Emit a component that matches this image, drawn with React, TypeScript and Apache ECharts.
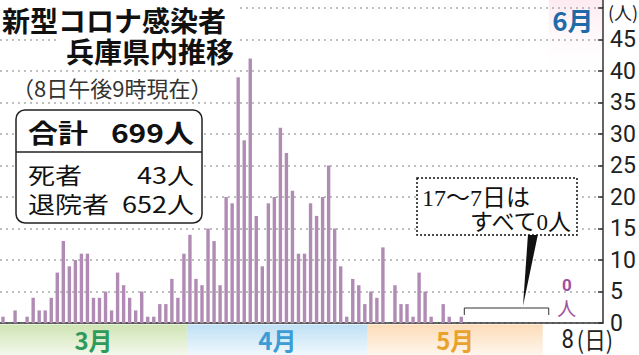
import React, { useEffect, useRef } from 'react';
import * as echarts from 'echarts';

// Daily new cases, Hyogo
const marchValues = [1, 0, 2, 0, 1, 4, 2, 2, 4, 8, 13, 9, 10, 11, 11, 4, 4, 5, 2, 8, 6, 4, 2, 5, 1, 1, 3, 3, 7, 4, 11];
const aprilValues = [14, 7, 6, 15, 13, 6, 20, 19, 39, 29, 42, 17, 9, 19, 20, 31, 27, 21, 11, 11, 19, 17, 20, 25, 15, 9, 1, 7, 6, 3];
const mayValues = [5, 4, 12, 0, 6, 3, 3, 1, 8, 5, 1, 0, 3, 1, 0, 1]; // May 1 - 16
const june8Value = 0;
const GAP_SLOTS = 17; // May 17 - June 7 (all 0), drawn compressed
const TRAIL_SLOTS = 5;
const MAY_BAND_EXTRA = 13;
const yMax = 50;
const yInterval = 5;

const categories: string[] = [];
const values: (number | null)[] = [];
marchValues.forEach((v, i) => { categories.push(`3/${i + 1}`); values.push(v); });
aprilValues.forEach((v, i) => { categories.push(`4/${i + 1}`); values.push(v); });
mayValues.forEach((v, i) => { categories.push(`5/${i + 1}`); values.push(v); });
for (let k = 0; k < GAP_SLOTS; k++) { categories.push(`gap${k}`); values.push(null); }
categories.push('6/8'); values.push(june8Value);
for (let k = 0; k < TRAIL_SLOTS; k++) { categories.push(`pad${k}`); values.push(null); }

const CJK = '"Noto Sans CJK JP", "Noto Sans", sans-serif';
const SERIF = '"Liberation Serif", "DejaVu Serif", "Noto Sans CJK JP", serif';

const option: any = {
  animation: false,
  grid: { left: 0, right: 36, top: 8, bottom: 32, containLabel: false },
  xAxis: {
    type: 'category',
    data: categories,
    boundaryGap: true,
    axisLine: { lineStyle: { color: '#333', width: 1.5 } },
    axisTick: { show: false },
    axisLabel: { show: false },
    splitLine: { show: false },
  },
  yAxis: {
    type: 'value',
    position: 'right',
    min: 0,
    max: yMax,
    interval: yInterval,
    axisLine: { show: true, lineStyle: { color: '#333', width: 1.5 } },
    axisTick: { show: true, inside: true, length: 5, lineStyle: { color: '#333', width: 1.5 } },
    axisLabel: {
      formatter: (v: number) => (v === yMax ? '' : String(v)),
      fontSize: 23,
      lineHeight: 23,
      color: '#222',
      margin: 7,
      fontFamily: 'Roboto, "Noto Sans CJK JP", sans-serif',
    },
    splitLine: { show: true, lineStyle: { type: [2, 4], color: '#aaa', width: 1.5 } },
  },
  series: [
    {
      type: 'bar',
      data: values,
      barWidth: 3.4,
      itemStyle: { color: '#b08cb4' },
      silent: true,
    },
  ],
};

export default function App() {
  const ref = useRef<HTMLDivElement>(null);
  useEffect(() => {
    const el = ref.current!;
    const chart = echarts.init(el, null, { renderer: 'svg' });
    chart.setOption(option);
    const px = (idx: number) => chart.convertToPixel({ xAxisIndex: 0 }, categories[idx]) as number;
    const step = px(1) - px(0);
    const edge = (idx: number) => px(idx) - step / 2;
    const iApr = marchValues.length;
    const iMay = iApr + aprilValues.length;
    const iGap = iMay + mayValues.length;
    const iJune8 = iGap + GAP_SLOTS;
    const gridRight = 639 - 36;
    const x0 = edge(0);
    const xApr = edge(iApr);
    const xMay = edge(iMay);
    const xMayEnd = edge(iGap + MAY_BAND_EXTRA);
    const xJune = edge(iGap + MAY_BAND_EXTRA + 1);
    const xJ8 = px(iJune8);
    const yTop = chart.convertToPixel({ yAxisIndex: 0 }, yMax) as number;
    const bandTop = 324.5;
    const bandH = 355 - bandTop;
    const grad = (a: string, b: string) => ({
      type: 'linear', x: 0, y: 0, x2: 0, y2: 1,
      colorStops: [{ offset: 0, color: a }, { offset: 1, color: b }],
    });
    const txt = (x: number, y: number, text: string, s: any, extra: any = {}) => ({
      type: 'text', x, y, z: 61, ...extra,
      style: {
        text, fill: '#111', fontFamily: CJK, align: 'left', verticalAlign: 'middle',
        lineHeight: s.fontSize, ...s,
      },
    });
    const bandLabel = (x: number, text: string, color: string) =>
      txt(x, 339, text, { fill: color, fontSize: 24, fontWeight: 'bold', align: 'center' }, { z: 50 });
    const elements: any[] = [
      // June band (top)
      { type: 'rect', z: -1, shape: { x: xJune, y: 0, width: gridRight - xJune, height: 80 },
        style: { fill: grad('#fdeaf0', 'rgba(255,255,255,0)') } },
      txt((xJune + gridRight) / 2 - 3, 19, '6月', { fill: '#1f6aa8', fontSize: 26, fontWeight: 'bold', align: 'center' }, { z: 50 }),
      // axis top extension and unit label
      { type: 'line', z: 50, shape: { x1: gridRight, y1: 0, x2: gridRight, y2: yTop }, style: { stroke: '#333', lineWidth: 1.5 } },
      txt(gridRight + 5, 12, '(人)', { fill: '#222', fontSize: 18 }, { z: 50 }),
      // month bands
      { type: 'rect', z: 10, shape: { x: x0, y: bandTop, width: xApr - x0, height: bandH }, style: { fill: grad('#cfe4b3', '#f3f8ec') } },
      { type: 'rect', z: 10, shape: { x: xApr, y: bandTop, width: xMay - xApr, height: bandH }, style: { fill: grad('#bfe0f5', '#f0f8fd') } },
      { type: 'rect', z: 10, shape: { x: xMay, y: bandTop, width: xMayEnd - xMay, height: bandH }, style: { fill: grad('#fcdcb8', '#fff6ec') } },
      bandLabel((x0 + xApr) / 2, '3月', '#2e9a5b'),
      bandLabel((xApr + xMay) / 2, '4月', '#3d9bd5'),
      bandLabel((xMay + xMayEnd) / 2, '5月', '#e9a22c'),
      // x axis label for June 8
      txt(xJ8 - 2, 339, '8', { fill: '#222', fontSize: 26, fontFamily: 'Roboto, sans-serif', align: 'center' }, { z: 50, scaleX: 0.85 }),
      txt(xJ8 + 7, 339, '(日)', { fill: '#222', fontSize: 24 }, { z: 50, scaleX: 0.9 }),
      // 0人 label for June 8
      txt(xJ8 - 3, 285, '0', { fill: '#a0509e', fontSize: 17, fontWeight: 'bold', fontFamily: 'Roboto, sans-serif', align: 'center' }, { z: 50 }),
      txt(xJ8 - 3, 307, '人', { fill: '#a0509e', fontSize: 19, align: 'center' }, { z: 50 }),
      // bracket over May 17 - June 7
      { type: 'polyline', z: 50, shape: { points: [[edge(iGap), 315], [edge(iGap), 308], [xJune, 308], [xJune, 315]] },
        style: { stroke: '#333', lineWidth: 1, fill: null } },
      // pointer
      { type: 'polygon', z: 60, shape: { points: [[528, 234], [538, 234], [523, 306]] }, style: { fill: '#111' } },
      // callout
      { type: 'rect', z: 60, shape: { x: 417, y: 178, width: 160, height: 57 },
        style: { fill: '#fff', stroke: '#111', lineWidth: 1.5, lineDash: [2, 2] } },
      txt(422, 198, '17～7日は', { fontSize: 24, fontFamily: SERIF }),
      txt(571, 222, 'すべて0人', { fontSize: 23, fontFamily: SERIF, align: 'right' }),
      // title
      { type: 'rect', z: 60, shape: { x: 0, y: 3, width: 237, height: 32 }, style: { fill: '#fff' } },
      { type: 'rect', z: 60, shape: { x: 56, y: 35, width: 181, height: 30 }, style: { fill: '#fff' } },
      txt(2, 20, '新型コロナ感染者', { fontSize: 28, fontWeight: 'bold' }),
      txt(234, 51, '兵庫県内推移', { fontSize: 28, fontWeight: 'bold', align: 'right' }),
      txt(12, 87, '（8日午後9時現在）', { fill: '#333', fontSize: 22 }),
      // summary box
      { type: 'rect', z: 60, shape: { x: 16, y: 110, width: 186, height: 113, r: 9 },
        style: { fill: '#fff', stroke: '#222', lineWidth: 1.5 } },
      { type: 'line', z: 61, shape: { x1: 16, y1: 152, x2: 202, y2: 152 }, style: { stroke: '#222', lineWidth: 1.5 } },
      txt(28, 132, '合計', { fontSize: 30, fontWeight: 'bold' }, { scaleY: 0.86 }),
      txt(194, 132, '699人', { fontSize: 30, fontWeight: 'bold', align: 'right' }, { scaleY: 0.86 }),
      txt(28, 174, '死者', { fontSize: 27 }, { scaleY: 0.84 }),
      txt(194, 174, '43人', { fontSize: 27, align: 'right' }, { scaleY: 0.84 }),
      txt(28, 203, '退院者', { fontSize: 27 }, { scaleY: 0.84 }),
      txt(194, 203, '652人', { fontSize: 27, align: 'right' }, { scaleY: 0.84 }),
    ];
    chart.setOption({ graphic: { elements } });
    return () => chart.dispose();
  }, []);
  return <div ref={ref} style={{ position: 'absolute', left: 0, top: 0, width: 639, height: 355 }} />;
}
